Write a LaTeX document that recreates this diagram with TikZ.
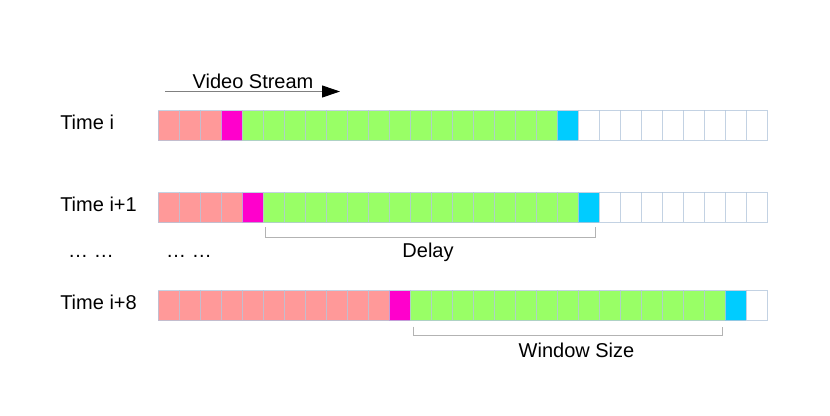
\documentclass[tikz,border=0pt]{standalone}
\usepackage{fontspec}
\setmainfont{Liberation Sans}
\usetikzlibrary{arrows.meta}
\definecolor{cpink}{HTML}{FF9999}
\definecolor{cmag}{HTML}{FF00CC}
\definecolor{cgreen}{HTML}{99FF66}
\definecolor{ccyan}{HTML}{00CCFF}
\definecolor{cborder}{HTML}{B4C7DC}
\definecolor{cbracket}{HTML}{B3B3B3}
\tikzset{
  cell/.style={draw=cborder, draw opacity=0.8, line width=0.75pt, minimum width=15.75pt, minimum height=22.5pt, inner sep=0pt, outer sep=0pt},
  lbl/.style={font=\fontsize{15pt}{18pt}\selectfont, inner sep=0pt, text=black},
  bracket/.style={draw=cbracket, line width=0.75pt},
}
\begin{document}
\begin{tikzpicture}[x=0.75pt, y=-0.75pt]
\useasboundingbox[fill=white] (0,0) rectangle (830,415);
% rows of cells
\foreach \r/\y/\p in {1/125.7/3, 2/207.5/4, 3/305.8/11}{
  \foreach \i in {0,...,28}{
    \pgfmathtruncatemacro\k{\i-\p}
    \ifnum\k<0 \def\cc{cpink}\else\ifnum\k=0 \def\cc{cmag}\else\ifnum\k<16 \def\cc{cgreen}\else\ifnum\k=16 \def\cc{ccyan}\else\def\cc{white}\fi\fi\fi\fi
    \node[cell, fill=\cc] (r\r-\i) at ({168.5+21*\i}, \y) {};
  }
}
% labels
\node[lbl, anchor=west] (t1) at (60,122) {Time i};
\node[lbl, anchor=west] (t2) at (60,204) {Time i+1};
\node[lbl, anchor=west] (t3) at (60,302) {Time i+8};
\node[lbl] (dots1) at (91,256) {… …};
\node[lbl] (dots2) at (189,256) {… …};
\node[lbl] (vs) at (253,81) {Video Stream};
% stream arrow
\coordinate (as) at (165,91.5);
\coordinate (ae) at (340,91.5);
\draw[draw=gray, line width=0.75pt, -{Triangle[length=13.5pt, width=9pt, color=black]}] (as) -- (ae);
% delay bracket
\coordinate (d1) at (265.5,227);
\coordinate (d2) at (265.5,237);
\coordinate (d3) at (595.5,237);
\coordinate (d4) at (595.5,227);
\draw[bracket] (d1) -- (d2) -- (d3) -- (d4);
\node[lbl] (delay) at (428,252) {Delay};
% window bracket
\coordinate (w1) at (413.5,326.5);
\coordinate (w2) at (413.5,335);
\coordinate (w3) at (722.5,335);
\coordinate (w4) at (722.5,326.5);
\draw[bracket] (w1) -- (w2) -- (w3) -- (w4);
\node[lbl] (win) at (576.5,350.5) {Window Size};
\end{tikzpicture}
\end{document}
